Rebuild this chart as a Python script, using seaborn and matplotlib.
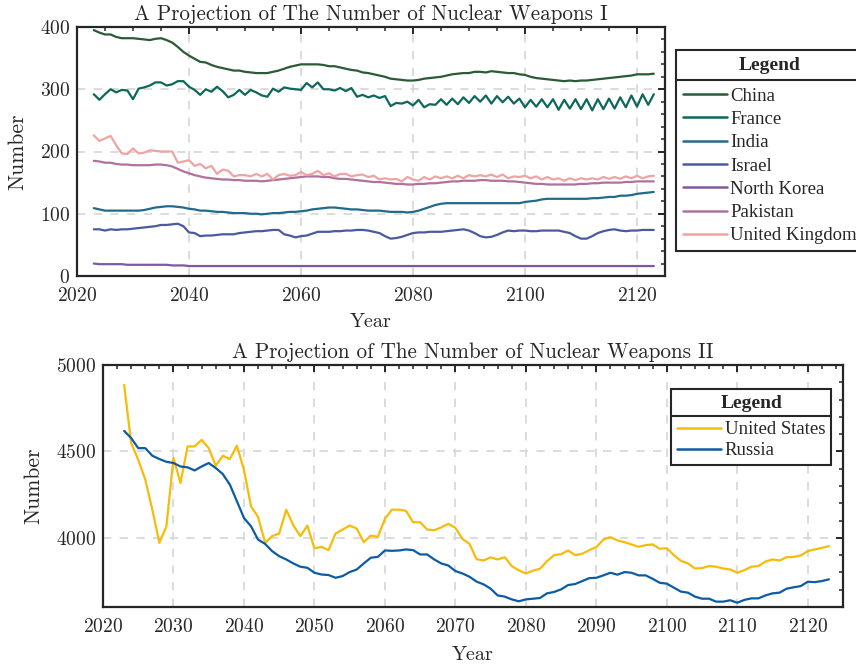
import numpy as np
import pandas as pd
import matplotlib
matplotlib.use("Agg")
import matplotlib.pyplot as plt
import seaborn as sns
from matplotlib.ticker import MultipleLocator
from matplotlib.lines import Line2D

years = list(range(2023, 2124))

china = [395, 391, 388, 388, 384, 382, 382, 382, 381, 380,
         379, 381, 382, 379, 375, 368, 360, 354, 349, 344,
         343, 339, 336, 334, 332, 330, 330, 328, 327, 326,
         326, 326, 328, 330, 333, 336, 338, 340, 340, 340,
         340, 339, 337, 337, 335, 333, 331, 330, 327, 326,
         324, 322, 320, 317, 316, 315, 314, 314, 315, 317,
         318, 319, 320, 322, 324, 325, 326, 326, 328, 328,
         327, 329, 328, 327, 326, 326, 324, 323, 320, 318,
         317, 316, 315, 314, 313, 314, 313, 314, 314, 315,
         316, 317, 318, 319, 320, 321, 322, 324, 324, 324,
         325]
france = [292, 283, 292, 300, 295, 299, 298, 284, 301, 303,
          306, 311, 311, 306, 308, 313, 313, 304, 299, 291,
          300, 296, 304, 297, 287, 291, 299, 291, 299, 295,
          290, 288, 301, 296, 303, 301, 300, 299, 310, 303,
          311, 300, 300, 298, 302, 297, 302, 288, 291, 287,
          290, 286, 289, 273, 278, 277, 280, 274, 283, 271,
          276, 275, 284, 275, 285, 276, 287, 278, 289, 280,
          290, 277, 289, 279, 288, 277, 285, 271, 283, 272,
          284, 271, 284, 267, 283, 269, 284, 268, 284, 266,
          284, 268, 285, 269, 287, 271, 290, 272, 292, 275,
          292]
india = [109, 107, 105, 105, 105, 105, 105, 105, 105, 106,
         108, 110, 111, 112, 112, 111, 110, 108, 107, 105,
         105, 104, 103, 103, 102, 101, 101, 101, 100, 100,
         99, 100, 101, 101, 102, 103, 103, 104, 105, 107,
         108, 109, 110, 110, 109, 108, 107, 107, 106, 105,
         105, 105, 104, 103, 103, 103, 102, 103, 105, 108,
         111, 114, 116, 117, 117, 117, 117, 117, 117, 117,
         117, 117, 117, 117, 117, 117, 117, 119, 120, 121,
         123, 124, 124, 124, 124, 124, 124, 124, 124, 125,
         125, 126, 127, 127, 129, 129, 130, 132, 133, 134,
         135]
israel = [75, 75, 73, 75, 74, 75, 75, 76, 77, 78,
          79, 80, 82, 82, 83, 84, 80, 70, 69, 64,
          65, 65, 66, 67, 67, 67, 69, 70, 71, 72,
          72, 73, 74, 74, 67, 65, 62, 64, 65, 68,
          71, 71, 71, 72, 72, 73, 73, 74, 74, 73,
          71, 69, 64, 60, 61, 63, 66, 69, 70, 70,
          71, 71, 71, 72, 73, 74, 75, 73, 69, 64,
          62, 63, 66, 70, 73, 72, 73, 73, 72, 72,
          73, 73, 73, 73, 71, 69, 64, 60, 60, 64,
          69, 72, 74, 75, 73, 72, 73, 73, 74, 74,
          74]
north_korea = [20, 19, 19, 19, 19, 19, 18, 18, 18, 18,
               18, 18, 18, 18, 17, 17, 17, 16, 16, 16,
               16, 16, 16, 16, 16, 16, 16, 16, 16, 16,
               16, 16, 16, 16, 16, 16, 16, 16, 16, 16,
               16, 16, 16, 16, 16, 16, 16, 16, 16, 16,
               16, 16, 16, 16, 16, 16, 16, 16, 16, 16,
               16, 16, 16, 16, 16, 16, 16, 16, 16, 16,
               16, 16, 16, 16, 16, 16, 16, 16, 16, 16,
               16, 16, 16, 16, 16, 16, 16, 16, 16, 16,
               16, 16, 16, 16, 16, 16, 16, 16, 16, 16,
               16]
pakistan = [185, 184, 182, 182, 180, 179, 179, 178, 178, 178,
            178, 179, 179, 178, 176, 172, 168, 165, 162, 160,
            158, 157, 156, 155, 155, 154, 154, 153, 153, 153,
            152, 153, 154, 155, 156, 157, 158, 159, 160, 160,
            160, 159, 159, 157, 156, 156, 155, 154, 153, 152,
            151, 151, 150, 149, 148, 148, 147, 147, 148, 148,
            149, 149, 150, 151, 152, 152, 153, 153, 153, 154,
            154, 153, 153, 153, 152, 152, 151, 150, 149, 148,
            148, 147, 147, 147, 147, 147, 147, 148, 148, 149,
            149, 150, 150, 150, 150, 151, 151, 152, 152, 152,
            152]
united_kingdom = [226, 217, 221, 225, 210, 197, 196, 205, 197, 198,
                  202, 201, 200, 200, 200, 182, 184, 186, 177, 180,
                  173, 177, 164, 171, 169, 160, 162, 162, 160, 164,
                  160, 164, 155, 162, 164, 161, 162, 167, 162, 164,
                  169, 162, 165, 160, 164, 164, 160, 162, 163, 159,
                  161, 155, 157, 155, 156, 152, 159, 155, 153, 159,
                  155, 160, 157, 160, 157, 161, 157, 162, 160, 162,
                  160, 163, 159, 163, 157, 160, 159, 161, 157, 160,
                  155, 159, 155, 157, 153, 157, 154, 157, 155, 157,
                  155, 159, 156, 159, 156, 160, 157, 161, 157, 160,
                  161]
united_states = [4885, 4548, 4452, 4337, 4163, 3971, 4067, 4462, 4317, 4529,
                 4529, 4567, 4519, 4417, 4475, 4456, 4533, 4394, 4183, 4121,
                 3971, 4010, 4025, 4163, 4073, 4010, 4071, 3939, 3948, 3929,
                 4025, 4048, 4071, 4054, 3975, 4013, 4006, 4110, 4163, 4163,
                 4156, 4090, 4090, 4048, 4044, 4061, 4081, 4058, 3994, 3965,
                 3877, 3869, 3887, 3875, 3888, 3837, 3812, 3794, 3810, 3821,
                 3865, 3900, 3906, 3927, 3900, 3908, 3929, 3946, 3990, 4004,
                 3985, 3975, 3962, 3948, 3958, 3962, 3937, 3940, 3900, 3867,
                 3852, 3823, 3825, 3837, 3833, 3823, 3817, 3798, 3813, 3833,
                 3837, 3863, 3875, 3869, 3888, 3890, 3898, 3923, 3933, 3942,
                 3952]
russia = [4619, 4577, 4519, 4519, 4475, 4456, 4440, 4433, 4413, 4408,
          4390, 4413, 4433, 4404, 4369, 4308, 4212, 4115, 4067, 3990,
          3965, 3923, 3894, 3875, 3852, 3833, 3827, 3798, 3788, 3785,
          3769, 3779, 3802, 3817, 3852, 3885, 3890, 3927, 3925, 3927,
          3933, 3929, 3904, 3904, 3875, 3852, 3840, 3808, 3794, 3775,
          3747, 3731, 3706, 3667, 3660, 3644, 3633, 3644, 3648, 3652,
          3679, 3687, 3702, 3727, 3733, 3750, 3767, 3769, 3783, 3798,
          3787, 3802, 3798, 3783, 3783, 3763, 3740, 3735, 3712, 3689,
          3683, 3660, 3648, 3648, 3631, 3631, 3639, 3625, 3641, 3650,
          3650, 3667, 3679, 3683, 3706, 3714, 3721, 3746, 3744, 3750,
          3760]

names1 = ["China", "France", "India", "Israel", "North Korea", "Pakistan", "United Kingdom"]
series1 = [china, france, india, israel, north_korea, pakistan, united_kingdom]
colors1 = ["#2b5a36", "#0d675a", "#216a8a", "#4b5a9e", "#7b5a9e", "#b0719c", "#f0a3a3"]
names2 = ["United States", "Russia"]
series2 = [united_states, russia]
colors2 = ["#f7bb0a", "#0b5ca4"]

sns.set_theme(style="white")
plt.rcParams["font.family"] = ["cmr10", "DejaVu Serif"]
plt.rcParams["axes.formatter.use_mathtext"] = True
plt.rcParams["mathtext.fontset"] = "cm"

df1 = pd.DataFrame({
    "Year": years * len(names1),
    "Number": [v for s in series1 for v in s],
    "Country": [n for n, s in zip(names1, series1) for _ in s],
})
df2 = pd.DataFrame({
    "Year": years * len(names2),
    "Number": [v for s in series2 for v in s],
    "Country": [n for n, s in zip(names2, series2) for _ in s],
})

fig = plt.figure(figsize=(8.56, 6.66), dpi=100)
ax1 = fig.add_axes([77 / 856, 1 - 276 / 666, 588 / 856, 249 / 666])
ax2 = fig.add_axes([103 / 856, 1 - 607 / 666, 740 / 856, 242 / 666])

sns.lineplot(data=df1, x="Year", y="Number", hue="Country", hue_order=names1,
             palette=dict(zip(names1, colors1)), linewidth=1.6, ax=ax1)
sns.lineplot(data=df2, x="Year", y="Number", hue="Country", hue_order=names2,
             palette=dict(zip(names2, colors2)), linewidth=1.6, ax=ax2)

TXT = "#262626"

def style(ax, xmaj, xmin, ymaj, ymin, ylim, xlabelpad, ylabelpad):
    ax.set_xlim(2020, 2125)
    ax.set_ylim(*ylim)
    ax.xaxis.set_major_locator(MultipleLocator(xmaj))
    ax.xaxis.set_minor_locator(MultipleLocator(xmin))
    ax.yaxis.set_major_locator(MultipleLocator(ymaj))
    ax.yaxis.set_minor_locator(MultipleLocator(ymin))
    ax.grid(True, which="major", linestyle=(0, (5, 5)), color="#d6d6d6", linewidth=1.2)
    ax.tick_params(which="both", direction="in", top=True, right=True,
                   colors=TXT, labelsize=14)
    ax.tick_params(which="major", length=5, width=1.4)
    ax.tick_params(which="minor", length=3, width=1.1)
    ax.tick_params(axis="x", which="major", pad=8)
    ax.tick_params(axis="y", which="major", pad=5)
    for sp in ax.spines.values():
        sp.set_color(TXT)
        sp.set_linewidth(1.6)
    ax.set_xlabel("Year", fontsize=14.5, color=TXT, labelpad=xlabelpad)
    ax.set_ylabel("Number", fontsize=15.5, color=TXT, labelpad=ylabelpad)

style(ax1, 20, 5, 100, 20, (0, 400), 6, 9)
style(ax2, 10, 2, 500, 100, (3600, 5000), 7, 9)
ax1.set_title("A Projection of The Number of Nuclear Weapons I", fontsize=15.2, color=TXT, pad=5)
ax2.set_title("A Projection of The Number of Nuclear Weapons II", fontsize=15.2, color=TXT, pad=5)

leg_font = {"family": "Liberation Serif", "size": 13.5}
title_font = {"family": "Liberation Serif", "size": 14, "weight": "bold"}

h1, l1 = ax1.get_legend_handles_labels()
leg1 = ax1.legend(h1, l1, title="Legend", loc="upper left",
                  bbox_to_anchor=(676 / 856, 1 - 50 / 666), bbox_transform=fig.transFigure,
                  frameon=True, fancybox=False, edgecolor=TXT, framealpha=1,
                  prop=leg_font, title_fontproperties=title_font,
                  handlelength=2.35, handletextpad=0.2, borderaxespad=0,
                  borderpad=0.35, labelspacing=0.33)
h2, l2 = ax2.get_legend_handles_labels()
leg2 = ax2.legend(h2, l2, title="Legend", loc="upper right",
                  bbox_to_anchor=((831 - 103) / 740, 1 - (389 - 365) / 242),
                  frameon=True, fancybox=False, edgecolor=TXT, framealpha=1,
                  prop=leg_font, title_fontproperties=title_font,
                  handlelength=2.35, handletextpad=0.2, borderaxespad=0,
                  borderpad=0.3, labelspacing=0.2)
for leg in (leg1, leg2):
    leg.get_frame().set_linewidth(1.5)
    leg._legend_title_box.set_height(leg._legend_title_box.get_children()[0].get_window_extent(fig.canvas.get_renderer()).height) if False else None
    for ln in leg.get_lines():
        ln.set_linewidth(1.8)

# extra space below the legend titles, like the reference
leg1._legend_box.sep = 10
leg2._legend_box.sep = 7

fig.canvas.draw()
renderer = fig.canvas.get_renderer()
inv = fig.transFigure.inverted()
for leg, off in ((leg1, 6), (leg2, 4)):
    bb = leg.get_frame().get_window_extent(renderer)
    tb = leg.get_title().get_window_extent(renderer)
    y = tb.y0 - off
    (x0, yy), (x1, _) = inv.transform([(bb.x0, y), (bb.x1, y)])
    fig.add_artist(Line2D([x0, x1], [yy, yy], transform=fig.transFigure,
                          color=TXT, linewidth=1.5, zorder=10))

fig.savefig("out.png", dpi=100)
